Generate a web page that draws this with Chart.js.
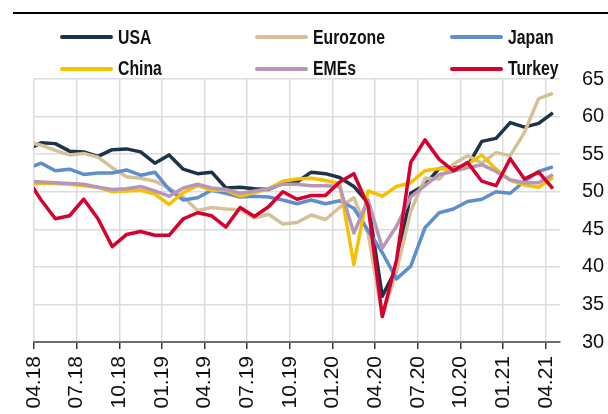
<!DOCTYPE html>
<html>
<head>
<meta charset="utf-8">
<title>Manufacturing PMIs</title>
<script src="https://cdn.jsdelivr.net/npm/chart.js@4.4.1/dist/chart.umd.min.js"></script>
<style>
    body { margin: 0; background: #fff; }
    #wrap { position: relative; width: 608px; height: 414px; }
    #topline { position: absolute; left: 13px; right: 0; top: 12px; height: 2px; background: #000; }
    .leg { position: absolute; display: flex; align-items: center; height: 24px;
           font: bold 19.5px 'Liberation Sans', Arial, sans-serif; color: #111; white-space: nowrap; }
    .leg i { display: inline-block; width: 53px; height: 4px; border-radius: 2px; margin-right: 5px; }
    .leg span { display: inline-block; transform: scaleX(0.81); transform-origin: left center; }
    canvas { position: absolute; left: 0; top: 0; }
</style>
</head>
<body>
<div id="wrap">
    <canvas id="pmi_chart" width="608" height="414"></canvas>
    <div id="topline"></div>
</div>
<script>
// months shown on the chart (03.18 sits just left of the axis and is clipped)
const months = ['03.18',
    '04.18', '05.18', '06.18', '07.18', '08.18', '09.18', '10.18', '11.18', '12.18',
    '01.19', '02.19', '03.19', '04.19', '05.19', '06.19', '07.19', '08.19', '09.19', '10.19', '11.19', '12.19',
    '01.20', '02.20', '03.20', '04.20', '05.20', '06.20', '07.20', '08.20', '09.20', '10.20', '11.20', '12.20',
    '01.21', '02.21', '03.21', '04.21'];

const tick_labels = ['04.18', '07.18', '10.18', '01.19', '04.19', '07.19', '10.19',
    '01.20', '04.20', '07.20', '10.20', '01.21', '04.21'];

const usa = [55.6, 56.5, 56.4, 55.4, 55.3, 54.7, 55.6, 55.7, 55.3, 53.8,
    54.9, 53.0, 52.4, 52.6, 50.5, 50.6, 50.4, 50.3, 51.1, 51.3, 52.6, 52.4,
    51.9, 50.7, 48.5, 36.1, 39.8, 49.8, 50.9, 53.1, 53.2, 53.4, 56.7, 57.1,
    59.2, 58.6, 59.1, 60.5];
const eurozone = [56.6, 56.2, 55.5, 54.9, 55.1, 54.6, 53.2, 52.0, 51.8, 51.4,
    50.5, 49.3, 47.5, 47.9, 47.7, 47.6, 46.5, 47.0, 45.7, 45.9, 46.9, 46.3,
    47.9, 49.2, 44.5, 33.4, 39.4, 47.4, 51.8, 51.7, 53.7, 54.8, 53.8, 55.2,
    54.8, 57.9, 62.4, 63.1];
const japan = [53.1, 53.8, 52.8, 53.0, 52.3, 52.5, 52.5, 52.9, 52.2, 52.6,
    50.3, 48.9, 49.2, 50.2, 49.8, 49.3, 49.4, 49.3, 48.9, 48.4, 48.9, 48.4,
    48.8, 47.8, 44.8, 41.9, 38.4, 40.1, 45.2, 47.2, 47.7, 48.7, 49.0, 50.0,
    49.8, 51.4, 52.7, 53.3];
const china = [51.0, 51.1, 51.1, 51.0, 50.8, 50.6, 50.0, 50.1, 50.2, 49.7,
    48.3, 49.9, 50.8, 50.2, 50.2, 49.4, 49.9, 50.4, 51.4, 51.7, 51.8, 51.5,
    51.1, 40.3, 50.1, 49.4, 50.7, 51.2, 52.8, 53.1, 53.0, 53.6, 54.9, 53.0,
    51.5, 50.9, 50.6, 51.9];
const emes = [51.4, 51.3, 51.2, 51.1, 51.0, 50.6, 50.3, 50.4, 50.7, 50.1,
    49.4, 50.5, 51.0, 50.5, 50.3, 49.8, 50.1, 50.4, 51.0, 51.0, 50.8, 50.8,
    50.7, 44.5, 48.9, 42.5, 45.4, 49.3, 50.8, 52.3, 52.7, 53.2, 53.6, 52.7,
    51.6, 51.2, 51.2, 52.3];
const turkey = [51.8, 48.9, 46.4, 46.8, 49.0, 46.4, 42.7, 44.3, 44.7, 44.2,
    44.2, 46.4, 47.2, 46.8, 45.3, 47.9, 46.7, 48.0, 50.0, 49.0, 49.5, 49.5,
    51.3, 52.4, 48.1, 33.4, 40.9, 53.9, 56.9, 54.3, 52.8, 53.9, 51.4, 50.8,
    54.4, 51.7, 52.6, 50.4];

const series = [
    { label: 'USA', data: usa, colour: '#1d3347' },
    { label: 'Eurozone', data: eurozone, colour: '#d6c09a' },
    { label: 'Japan', data: japan, colour: '#5d8fcc' },
    { label: 'China', data: china, colour: '#f6c200' },
    { label: 'EMEs', data: emes, colour: '#b697b8' },
    { label: 'Turkey', data: turkey, colour: '#d4002f' }
];

// html legend, three columns by two rows
const wrap = document.getElementById('wrap');
series.forEach(function (s, k) {
    const item = document.createElement('div');
    item.className = 'leg';
    item.style.left = (60 + (k % 3) * 195) + 'px';
    item.style.top = (25 + Math.floor(k / 3) * 31.6) + 'px';
    item.innerHTML = '<i style="background:' + s.colour + '"></i><span>' + s.label + '</span>';
    wrap.appendChild(item);
});

// monthly points sit mid-month, ticks sit on the month start
const datasets = series.map(function (s, k) {
    return {
        label: s.label,
        data: s.data.map((v, i) => ({ x: i - 0.5, y: v })),
        borderColor: s.colour,
        backgroundColor: s.colour,
        borderWidth: 3.5,
        borderJoinStyle: 'round',
        pointRadius: 0,
        tension: 0,
        fill: false,
        order: series.length - k
    };
});

const canvas = document.getElementById('pmi_chart');
const chart = new Chart(canvas, {
    type: 'line',
    data: { datasets: datasets },
    options: {
        responsive: false,
        animation: false,
        devicePixelRatio: 1,
        layout: { padding: { left: 34, top: 79, right: 0, bottom: 0 } },
        plugins: { legend: { display: false }, tooltip: { enabled: false } },
        scales: {
            x: {
                type: 'linear',
                min: 0,
                max: 37,
                afterBuildTicks: function (axis) {
                    axis.ticks = tick_labels.map(l => ({ value: months.indexOf(l) - 1 }));
                },
                afterFit: function (axis) { axis.height = 72; },
                ticks: {
                    callback: v => months[v + 1],
                    autoSkip: false,
                    minRotation: 90,
                    maxRotation: 90,
                    padding: 7,
                    color: '#111',
                    font: { family: 'Liberation Sans', size: 21 }
                },
                grid: { color: '#dcdcdc', lineWidth: 1.5, tickColor: '#333', tickLength: 7, tickWidth: 1.5 },
                border: { color: '#6e6e6e', width: 2 }
            },
            y: {
                position: 'right',
                min: 30,
                max: 65,
                afterFit: function (axis) { axis.width = 48; },
                ticks: {
                    stepSize: 5,
                    padding: 22,
                    color: '#111',
                    font: { family: 'Liberation Sans', size: 20 }
                },
                grid: {
                    drawTicks: false,
                    lineWidth: 1.5,
                    color: ctx => (ctx.tick && ctx.tick.value === 30) ? 'rgba(0,0,0,0)' : '#dcdcdc'
                },
                border: { display: false }
            }
        }
    }
});
</script>
</body>
</html>
